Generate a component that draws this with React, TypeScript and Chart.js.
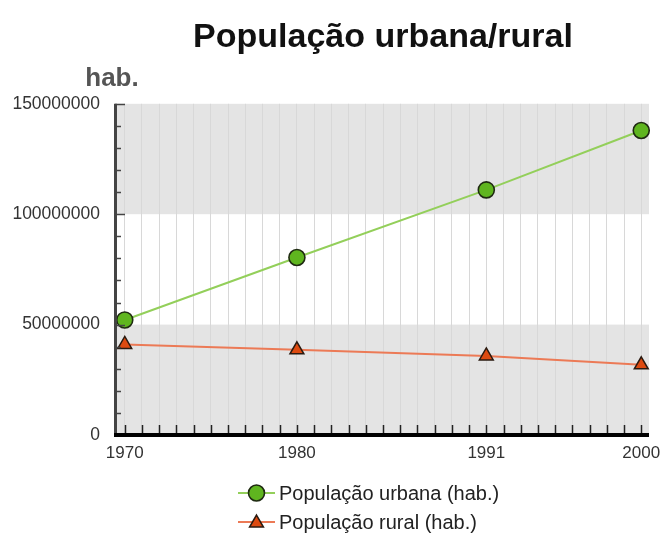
import React, { useEffect, useRef } from 'react';
import { Chart, registerables } from 'chart.js';

Chart.register(...registerables);

// ---- data ----
const years = [1970, 1980, 1991, 2000];
const urbanPop = [52100000, 80400000, 111000000, 137900000];
const ruralPop = [41000000, 38600000, 35800000, 31800000];
const labelledYears = [1970, 1980, 1991, 2000];
const yLabelValues = [0, 50000000, 100000000, 150000000];
const seriesNames = ['População urbana (hab.)', 'População rural (hab.)'];
const chartTitle = 'População urbana/rural';
const yAxisTitle = 'hab.';

const FONT = '"Liberation Sans", Arial, sans-serif';

function drawMarker(ctx: CanvasRenderingContext2D, style: string, x: number, y: number, r: number, fill: string, stroke: string, bw: number) {
  ctx.beginPath();
  if (style === 'triangle') {
    let rad = 0;
    ctx.moveTo(x + Math.sin(rad) * r, y - Math.cos(rad) * r);
    rad += (2 * Math.PI) / 3;
    ctx.lineTo(x + Math.sin(rad) * r, y - Math.cos(rad) * r);
    rad += (2 * Math.PI) / 3;
    ctx.lineTo(x + Math.sin(rad) * r, y - Math.cos(rad) * r);
    ctx.closePath();
  } else {
    ctx.arc(x, y, r, 0, Math.PI * 2);
  }
  ctx.fillStyle = fill;
  ctx.fill();
  ctx.lineWidth = bw;
  ctx.strokeStyle = stroke;
  ctx.stroke();
}

const decorPlugin = {
  id: 'decor',
  beforeDraw(chart: any) {
    const { ctx, chartArea } = chart;
    const ys = chart.scales.y;
    ctx.save();
    ctx.fillStyle = '#ffffff';
    ctx.fillRect(chartArea.left, chartArea.top, chartArea.right - chartArea.left, chartArea.bottom - chartArea.top);
    ctx.fillStyle = '#e4e4e4';
    for (let i = 0; i < yLabelValues.length - 1; i += 2) {
      const yTop = ys.getPixelForValue(yLabelValues[i + 1]);
      const yBot = ys.getPixelForValue(yLabelValues[i]);
      ctx.fillRect(chartArea.left, yTop, chartArea.right - chartArea.left, yBot - yTop);
    }
    ctx.restore();
  },
  afterDatasetsDraw(chart: any) {
    const { ctx, chartArea } = chart;
    const xs = chart.scales.x;
    const ys = chart.scales.y;
    ctx.save();
    // y axis ticks (inward)
    ctx.strokeStyle = '#444';
    ctx.lineWidth = 1.5;
    ys.ticks.forEach((t: any) => {
      const py = Math.round(ys.getPixelForValue(t.value)) + 0.5;
      const major = t.value % 50000000 === 0;
      ctx.beginPath();
      ctx.moveTo(chartArea.left - 2, py);
      ctx.lineTo(chartArea.left + (major ? 8 : 4), py);
      ctx.stroke();
    });
    // x axis ticks (inward)
    ctx.strokeStyle = '#222';
    xs.ticks.forEach((t: any) => {
      const px = Math.round(xs.getPixelForValue(t.value)) + 0.5;
      ctx.beginPath();
      ctx.moveTo(px, chartArea.bottom);
      ctx.lineTo(px, chartArea.bottom - 10);
      ctx.stroke();
    });
    // y axis line
    ctx.strokeStyle = '#444';
    ctx.lineWidth = 3;
    ctx.beginPath();
    ctx.moveTo(chartArea.left - 1.5, chartArea.top);
    ctx.lineTo(chartArea.left - 1.5, chartArea.bottom + 2);
    ctx.stroke();
    // x axis line
    ctx.strokeStyle = '#000';
    ctx.lineWidth = 4;
    ctx.beginPath();
    ctx.moveTo(chartArea.left - 3, chartArea.bottom);
    ctx.lineTo(chartArea.right, chartArea.bottom);
    ctx.stroke();
    ctx.restore();
  },
  afterDraw(chart: any) {
    const { ctx, chartArea } = chart;
    ctx.save();
    // y axis title
    ctx.fillStyle = '#555';
    ctx.font = 'bold 26px ' + FONT;
    ctx.textAlign = 'center';
    ctx.textBaseline = 'alphabetic';
    ctx.fillText(yAxisTitle, chartArea.left - 5, 86);
    // legend
    const rowY = [493, 522];
    const lineX0 = 238;
    const lineX1 = 275;
    chart.data.datasets.forEach((ds: any, i: number) => {
      const y = rowY[i];
      ctx.strokeStyle = ds.borderColor;
      ctx.lineWidth = 2;
      ctx.beginPath();
      ctx.moveTo(lineX0, y);
      ctx.lineTo(lineX1, y);
      ctx.stroke();
      drawMarker(ctx, ds.pointStyle, (lineX0 + lineX1) / 2, ds.pointStyle === 'triangle' ? y + 1 : y, ds.pointRadius, ds.pointBackgroundColor, ds.pointBorderColor, ds.pointBorderWidth);
      ctx.fillStyle = '#222';
      ctx.font = '20px ' + FONT;
      ctx.textAlign = 'left';
      ctx.textBaseline = 'middle';
      ctx.fillText(ds.label, 279, y + 1);
    });
    ctx.restore();
  },
};

export default function App() {
  const canvasRef = useRef<HTMLCanvasElement | null>(null);

  useEffect(() => {
    const canvas = canvasRef.current;
    if (!canvas) return;
    const chart = new Chart(canvas, {
      type: 'line',
      data: {
        datasets: [
          {
            label: seriesNames[0],
            data: years.map((y, i) => ({ x: y, y: urbanPop[i] })),
            borderColor: '#93cf5a',
            borderWidth: 2,
            pointStyle: 'circle',
            pointRadius: 8,
            pointBackgroundColor: '#5fb51f',
            pointBorderColor: '#1f2a12',
            pointBorderWidth: 1.6,
            tension: 0,
            clip: false,
          },
          {
            label: seriesNames[1],
            data: years.map((y, i) => ({ x: y, y: ruralPop[i] })),
            borderColor: '#ec7a56',
            borderWidth: 2,
            pointStyle: 'triangle',
            pointRadius: 8,
            pointBackgroundColor: '#dd4a10',
            pointBorderColor: '#2a1a10',
            pointBorderWidth: 1.5,
            tension: 0,
            clip: false,
          },
        ],
      } as any,
      options: {
        animation: false,
        responsive: false,
        devicePixelRatio: 1,
        layout: { padding: { left: 0, right: 14, top: 0, bottom: 72 } },
        plugins: {
          legend: { display: false },
          tooltip: { enabled: false },
          title: {
            display: true,
            text: chartTitle,
            fullSize: false,
            color: '#111',
            font: { family: FONT, size: 34, weight: 'bold' },
            padding: { top: 17, bottom: 46 },
          },
        },
        scales: {
          x: {
            type: 'linear',
            min: 1969.55,
            max: 2000.45,
            afterBuildTicks: (scale: any) => {
              const t = [];
              for (let v = years[0]; v <= years[years.length - 1]; v++) t.push({ value: v });
              scale.ticks = t;
            },
            afterFit: (scale: any) => {
              scale.height = 30;
              scale.paddingLeft = 0;
              scale.paddingRight = 0;
            },
            grid: { display: true, color: '#d8d8d8', lineWidth: 1, drawTicks: false },
            border: { display: false },
            ticks: {
              autoSkip: false,
              maxRotation: 0,
              padding: 8,
              color: '#333',
              font: { family: FONT, size: 17 },
              callback: (v: any) => (labelledYears.includes(Number(v)) ? String(v) : ''),
            },
          },
          y: {
            type: 'linear',
            min: yLabelValues[0],
            max: yLabelValues[yLabelValues.length - 1],
            afterBuildTicks: (scale: any) => {
              const t = [];
              const step = (yLabelValues[1] - yLabelValues[0]) / 5;
              for (let v = yLabelValues[0]; v <= yLabelValues[yLabelValues.length - 1]; v += step) t.push({ value: v });
              scale.ticks = t;
            },
            afterFit: (scale: any) => {
              scale.width = 117;
              scale.paddingTop = 0;
              scale.paddingBottom = 0;
            },
            grid: { display: false, drawTicks: false },
            border: { display: false },
            ticks: {
              autoSkip: false,
              padding: 17,
              color: '#333',
              font: { family: FONT, size: 17.5 },
              callback: (v: any) => (yLabelValues.includes(Number(v)) ? String(v) : ''),
            },
          },
        },
      } as any,
      plugins: [decorPlugin],
    });
    return () => chart.destroy();
  }, []);

  return (
    <div style={{ position: 'absolute', left: 0, top: 0, width: 663, height: 537, background: '#fff' }}>
      <canvas ref={canvasRef} width={663} height={537} style={{ display: 'block' }} />
    </div>
  );
}
